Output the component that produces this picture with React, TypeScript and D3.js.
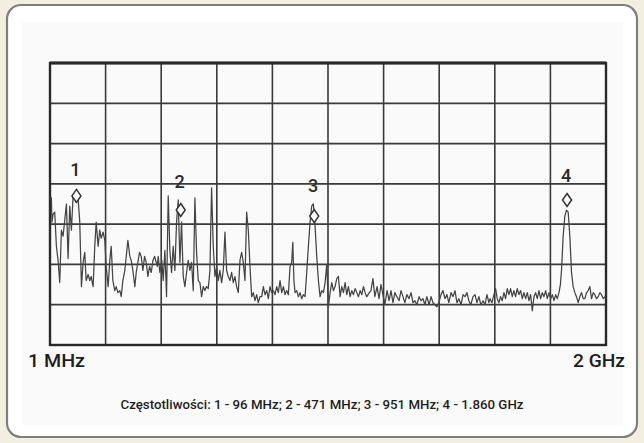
import React from "react";
import * as d3 from "d3";

// Spectrum trace: frequency (MHz) and level (dBm, ref 0 dBm at top, 10 dB/div)
const freqMHz = [
  1, 6, 8, 12, 18, 24, 30, 36, 42, 48, 60, 66, 72, 78, 84, 96, 102, 108, 114, 120,
  126, 131, 138, 144, 149, 156, 162, 167, 174, 180, 185, 192, 198, 203, 210, 216, 221, 227, 234, 239,
  245, 252, 257, 263, 270, 281, 288, 293, 299, 306, 311, 317, 323, 329, 335, 341, 347, 353, 359, 365,
  371, 377, 387, 390, 396, 403, 408, 414, 420, 426, 432, 438, 444, 450, 456, 462, 468, 474, 480, 486,
  492, 498, 504, 510, 516, 522, 528, 534, 540, 546, 552, 558, 564, 570, 576, 582, 588, 594, 600, 606,
  612, 618, 624, 630, 636, 642, 648, 654, 660, 666, 672, 678, 684, 690, 696, 702, 708, 714, 720, 726,
  732, 738, 744, 750, 756, 762, 768, 774, 780, 786, 792, 798, 804, 810, 816, 822, 828, 834, 840, 846,
  852, 858, 864, 870, 874, 878, 882, 888, 894, 900, 906, 912, 918, 924, 930, 936, 942, 948, 954, 960,
  966, 972, 978, 984, 990, 996, 1002, 1008, 1014, 1020, 1026, 1032, 1038, 1044, 1050, 1056, 1062, 1068, 1074, 1080,
  1086, 1092, 1098, 1104, 1110, 1116, 1122, 1128, 1134, 1140, 1149, 1155, 1162, 1169, 1177, 1184, 1191, 1198, 1205, 1213,
  1220, 1227, 1234, 1241, 1248, 1256, 1263, 1270, 1277, 1284, 1292, 1299, 1306, 1313, 1320, 1328, 1335, 1342, 1349, 1356,
  1364, 1371, 1378, 1385, 1392, 1399, 1407, 1414, 1421, 1428, 1435, 1443, 1450, 1457, 1464, 1471, 1479, 1486, 1493, 1500,
  1507, 1514, 1522, 1529, 1536, 1543, 1550, 1558, 1565, 1572, 1579, 1583, 1590, 1597, 1603, 1609, 1615, 1621, 1627, 1633,
  1639, 1645, 1651, 1657, 1663, 1669, 1675, 1681, 1687, 1693, 1699, 1705, 1711, 1717, 1723, 1729, 1735, 1741, 1747, 1753,
  1759, 1765, 1771, 1777, 1783, 1789, 1795, 1801, 1807, 1813, 1819, 1825, 1831, 1836, 1840, 1846, 1852, 1858, 1864, 1870,
  1876, 1882, 1888, 1894, 1900, 1906, 1912, 1918, 1924, 1930, 1936, 1942, 1948, 1954, 1960, 1966, 1972, 1978, 1984, 1990,
  1996, 2000,
];

const levelDbm = [
  -34, -33.5, -39.5, -37.5, -37, -45.5, -49, -54.5, -41.5, -43, -35, -48.5, -35.5, -41.5, -33, -34, -33.5, -39.5, -55.5, -49.5,
  -47, -54, -52.5, -54, -53, -55.5, -45.5, -39.5, -45.5, -41.5, -43.5, -42, -44, -50.5, -55.5, -49, -45.5, -54, -56.5, -55.5,
  -57, -56.5, -58, -54, -51.5, -44, -48, -49, -51.5, -55.5, -52, -49.5, -47, -48, -51.5, -48, -49.5, -53, -50.5, -52,
  -49, -48, -50.5, -48, -52, -49, -54, -46.5, -58, -33, -46.5, -52, -45.5, -51.5, -39.5, -34, -49.5, -39.5, -53, -55.5,
  -52, -49, -51.5, -49.5, -56.5, -33.5, -47, -54, -54.5, -58, -55.5, -56.5, -55.5, -56, -51.5, -31, -45.5, -53, -50.5, -54,
  -51.5, -54.5, -51.5, -42, -51.5, -53, -54, -52, -54.5, -53, -55.5, -57, -49, -47, -49.5, -54, -37, -41.5, -50.5, -58,
  -57, -59, -57.5, -59.5, -58, -58, -55.5, -57.5, -56.5, -58.5, -55.5, -57, -56.5, -57.5, -55.5, -57, -54, -57, -55.5, -57.5,
  -56.5, -57.5, -50.5, -49.5, -44.5, -54, -57, -56.5, -58, -57, -58.5, -57.5, -58, -52, -45.5, -39.5, -35.5, -35, -40.5, -48,
  -54, -58, -56.5, -57, -54.5, -50, -60.5, -57, -54.5, -56.5, -55.5, -53.5, -53, -58, -55.5, -57, -54.5, -57.5, -55.5, -58,
  -56.5, -57.5, -56, -57, -58, -56.5, -57.5, -55.5, -57, -58, -57, -56.5, -53.5, -58, -55.5, -58.5, -55, -57.5, -60, -56.5,
  -59, -56.5, -59.5, -57, -58, -59, -56.5, -58, -59.5, -57.5, -58.5, -57, -59.5, -59, -60, -58, -59, -58.5, -60, -58,
  -60, -58, -59.5, -60, -60.5, -59.5, -57.5, -56.5, -58.5, -57.5, -59.5, -57, -58, -56.5, -59.5, -58.5, -60, -57.5, -58, -57,
  -59, -60, -58, -57.5, -59.5, -58, -60, -59, -60, -57.5, -59.5, -58.5, -59.5, -57.5, -56, -58.5, -59.5, -58, -59, -57,
  -58.5, -56, -57.5, -56, -58, -56.5, -58, -56, -57.5, -56.5, -58.5, -57, -58.5, -57, -59, -57.5, -61.5, -58, -57, -58.5,
  -56.5, -58.5, -57, -58, -56.5, -58.5, -57, -58.5, -57.5, -59, -57.5, -58.5, -57, -55, -51.5, -43, -38, -36.5, -37, -43,
  -52, -55.5, -57, -58, -59.5, -58, -57, -58.5, -58.5, -57, -56.5, -55.5, -58.5, -57, -57.5, -58.5, -58, -57, -57.5, -58.5,
  -58, -58,
];

// Markers
const markerIds = ["1", "2", "3", "4"];
const markerFreqMHz = [96, 471, 951, 1860];
const markerLevelDbm = [-33, -36.5, -38, -34];
const markerLabelDbm = [-26.5, -29.5, -30.5, -28];

const xDomain = [1, 2000];
const yDomain = [-70, 0];
const xDivisions = 10;
const yDivisions = 7;

const startLabel = "1 MHz";
const stopLabel = "2 GHz";
const caption = "Częstotliwości: 1 - 96 MHz; 2 - 471 MHz; 3 - 951 MHz; 4 - 1.860 GHz";

const W = 644;
const H = 443;

export default function App() {
  const left = 50, right = 606, top = 63, bottom = 345;
  const x = d3.scaleLinear().domain(xDomain).range([left, right]);
  const y = d3.scaleLinear().domain(yDomain).range([bottom, top]);
  const xDiv = d3.scaleLinear().domain([0, xDivisions]).range([left, right]);
  const yDiv = d3.scaleLinear().domain([0, yDivisions]).range([bottom, top]);

  const pts: [number, number][] = freqMHz.map((f, i) => [f, levelDbm[i]]);
  const line = d3
    .line<[number, number]>()
    .x((d) => x(d[0]))
    .y((d) => y(d[1]));

  const gridColor = "#3a3a3a";
  const font = "'Roboto', 'Liberation Sans', sans-serif";

  return (
    <svg
      width={W}
      height={H}
      viewBox={`0 0 ${W} ${H}`}
      style={{ position: "absolute", left: 0, top: 0, display: "block" }}
    >
      <rect x={0} y={0} width={W} height={H} fill="#f3efe0" />
      <rect x={7} y={5} width={630} height={432} rx={14} ry={14} fill="#ffffff" stroke="#7f7f7f" strokeWidth={2.2} />
      <rect x={22} y={22} width={601} height={403} fill="#fafafa" />

      {/* grid */}
      <g>
        {d3.range(1, xDivisions).map((i) => (
          <line key={"v" + i} x1={xDiv(i)} x2={xDiv(i)} y1={top} y2={bottom} stroke={gridColor} strokeWidth={1.6} />
        ))}
        {d3.range(1, yDivisions).map((i) => (
          <line key={"h" + i} x1={left} x2={right} y1={yDiv(i)} y2={yDiv(i)} stroke={gridColor} strokeWidth={1.8} />
        ))}
        <rect x={left} y={top} width={right - left} height={bottom - top} fill="none" stroke="#2a2a2a" strokeWidth={2.4} />
        <line x1={left} x2={right} y1={top} y2={top} stroke="#2a2a2a" strokeWidth={3} />
      </g>

      {/* trace */}
      <path d={line(pts) || ""} fill="none" stroke="#444" strokeWidth={1.25} strokeLinejoin="round" />

      {/* markers */}
      {markerIds.map((id, i) => {
        const mx = x(markerFreqMHz[i]);
        const my = y(markerLevelDbm[i]);
        const hw = 4.5, hh = 6.5;
        return (
          <g key={id}>
            <polygon
              points={`${mx},${my - hh} ${mx + hw},${my} ${mx},${my + hh} ${mx - hw},${my}`}
              fill="#ffffff"
              stroke="#333"
              strokeWidth={1.5}
            />
            <text
              x={mx - 1}
              y={y(markerLabelDbm[i])}
              textAnchor="middle"
              dominantBaseline="central"
              fontFamily={font}
              fontSize={18}
              fontWeight={500}
              fill="#2a2a2a"
            >
              {id}
            </text>
          </g>
        );
      })}

      {/* axis end labels */}
      <text x={28} y={367} fontFamily={font} fontSize={19} fontWeight={500} fill="#1e1e1e" textLength={57} lengthAdjust="spacingAndGlyphs">
        {startLabel}
      </text>
      <text x={625} y={367} textAnchor="end" fontFamily={font} fontSize={19} fontWeight={500} fill="#1e1e1e" textLength={52} lengthAdjust="spacingAndGlyphs">
        {stopLabel}
      </text>

      <text
        x={322}
        y={409}
        textAnchor="middle"
        fontFamily={font}
        fontSize={12.5}
        fontWeight={500}
        fill="#1e1e1e"
        textLength={403}
        lengthAdjust="spacingAndGlyphs"
      >
        {caption}
      </text>
    </svg>
  );
}
